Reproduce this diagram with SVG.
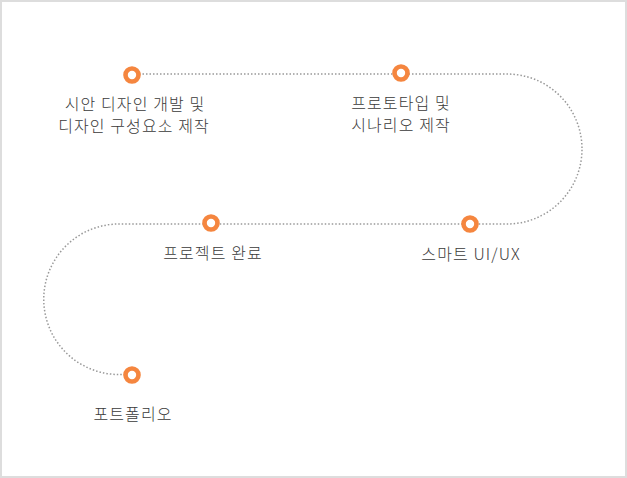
<svg xmlns="http://www.w3.org/2000/svg" width="627" height="478" viewBox="0 0 627 478">
<style>
.lbl{font-family:"Noto Sans CJK KR","Noto Sans",sans-serif;font-size:16px;font-weight:300;letter-spacing:1.1px;fill:#3a3a3a;text-anchor:middle}
.dot{fill:#fff;stroke:#f5863f;stroke-width:4.6}
.path{fill:none;stroke:#999;stroke-width:1.5;stroke-dasharray:1.5 2}
</style>
<rect x="1" y="1" width="625" height="476" fill="#fff" stroke="#ddd" stroke-width="2"/>
<g id="connectors">
<path class="path" d="M132 74 L507 74 A75 75 0 0 1 507 224 L119 224 A75 75 0 0 0 119 374.5 L132 374.5"/>
</g>
<g id="n1"><circle class="dot" cx="132" cy="75" r="6.5"/><text class="lbl" x="135" y="110">시안 디자인 개발 및</text><text class="lbl" x="134" y="132">디자인 구성요소 제작</text></g>
<g id="n2"><circle class="dot" cx="401" cy="73" r="6.5"/><text class="lbl" x="401" y="109">프로토타입 및</text><text class="lbl" x="401" y="131">시나리오 제작</text></g>
<g id="n3"><circle class="dot" cx="470" cy="224" r="6.5"/><text class="lbl" x="471" y="260">스마트 UI/UX</text></g>
<g id="n4"><circle class="dot" cx="211" cy="223" r="6.5"/><text class="lbl" x="213" y="259">프로젝트 완료</text></g>
<g id="n5"><circle class="dot" cx="132" cy="375" r="6.5"/><text class="lbl" x="133" y="420">포트폴리오</text></g>
</svg>
